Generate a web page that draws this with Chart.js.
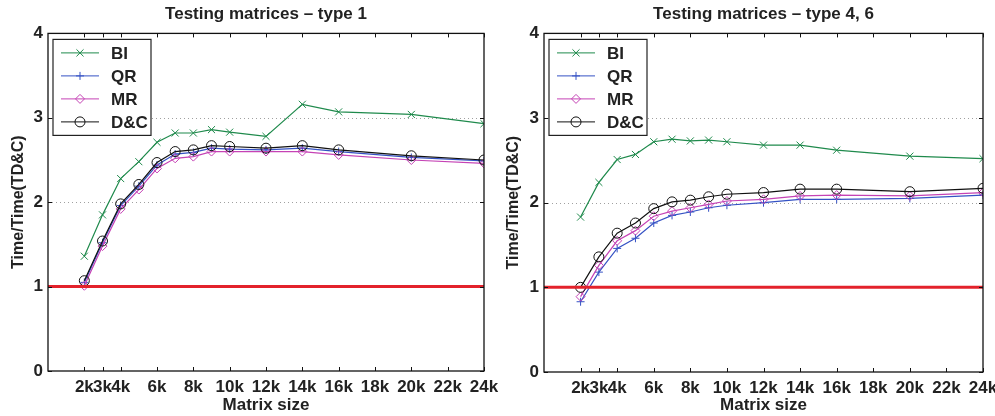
<!DOCTYPE html>
<html>
<head>
<meta charset="utf-8">
<script src="https://cdn.jsdelivr.net/npm/chart.js@4.4.1/dist/chart.umd.min.js"></script>
<style>
    html, body { margin: 0; padding: 0; background: #fff; }
    #wrap { position: relative; width: 995px; height: 416px; overflow: hidden; }
    .panel { position: absolute; top: 0; height: 416px; }
    #left { left: 0; width: 510px; }
    #right { left: 495px; width: 500px; }
</style>
</head>
<body>
<div id="wrap">
    <div class="panel" id="left"><canvas id="Type1Chart" width="510" height="416"></canvas></div>
    <div class="panel" id="right"><canvas id="Type46Chart" width="500" height="416"></canvas></div>
</div>
<script>
// Datos
var matrixSizes = [2000, 3000, 4000, 5000, 6000, 7000, 8000, 9000, 10000, 12000, 14000, 16000, 20000, 24000];
var xTickValues = [2000, 3000, 4000, 6000, 8000, 10000, 12000, 14000, 16000, 18000, 20000, 22000, 24000];
var yTickValues = [0, 1, 2, 3, 4];
var xRange = [0, 24000];
var referenceLevel = [1, 1];

var type1BI = [1.36, 1.85, 2.28, 2.48, 2.71, 2.82, 2.82, 2.86, 2.83, 2.78, 3.16, 3.07, 3.04, 2.93];
var type1QR = [1.05, 1.52, 1.96, 2.19, 2.44, 2.57, 2.59, 2.64, 2.63, 2.62, 2.64, 2.60, 2.53, 2.49];
var type1MR = [1.01, 1.48, 1.92, 2.15, 2.40, 2.52, 2.54, 2.60, 2.60, 2.60, 2.60, 2.56, 2.50, 2.46];
var type1DC = [1.07, 1.54, 1.98, 2.21, 2.47, 2.60, 2.62, 2.67, 2.66, 2.64, 2.67, 2.62, 2.55, 2.50];

var type46BI = [1.83, 2.24, 2.51, 2.57, 2.72, 2.75, 2.73, 2.74, 2.72, 2.68, 2.68, 2.62, 2.55, 2.52];
var type46QR = [0.83, 1.18, 1.46, 1.58, 1.76, 1.85, 1.89, 1.94, 1.97, 2.00, 2.04, 2.04, 2.05, 2.09];
var type46MR = [0.89, 1.26, 1.55, 1.67, 1.84, 1.90, 1.94, 1.98, 2.02, 2.04, 2.08, 2.09, 2.08, 2.12];
var type46DC = [1.00, 1.36, 1.64, 1.76, 1.93, 2.01, 2.03, 2.07, 2.10, 2.12, 2.16, 2.16, 2.13, 2.17];

Chart.defaults.font.family = "'Liberation Sans', Arial, Helvetica, sans-serif";
Chart.defaults.color = '#222';

function toPoints(values) {
    return matrixSizes.map(function (s, i) { return { x: s, y: values[i] }; });
}

// ejes estilo matlab: rejilla punteada, marco y marcas hacia dentro
var matlabAxes = {
    id: 'matlabAxes',
    beforeDatasetsDraw: function (chart) {
        var a = chart.chartArea, ctx = chart.ctx, ys = chart.scales.y;
        ctx.save();
        ctx.strokeStyle = '#a0a0a0';
        ctx.lineWidth = 1;
        ctx.setLineDash([1, 3]);
        ys.ticks.forEach(function (t) {
            if (t.value <= ys.min || t.value >= ys.max) return;
            var py = Math.round(ys.getPixelForValue(t.value)) + 0.5;
            ctx.beginPath();
            ctx.moveTo(a.left, py);
            ctx.lineTo(a.right, py);
            ctx.stroke();
        });
        ctx.restore();
    },
    afterDraw: function (chart) {
        var a = chart.chartArea, ctx = chart.ctx, xs = chart.scales.x, ys = chart.scales.y;
        var len = 4;
        ctx.save();
        ctx.strokeStyle = '#111';
        ctx.lineWidth = 1.3;
        ctx.strokeRect(a.left, a.top, a.right - a.left, a.bottom - a.top);
        ctx.lineWidth = 1;
        ctx.beginPath();
        xs.ticks.forEach(function (t) {
            var px = Math.round(xs.getPixelForValue(t.value)) + 0.5;
            ctx.moveTo(px, a.bottom); ctx.lineTo(px, a.bottom - len);
            ctx.moveTo(px, a.top); ctx.lineTo(px, a.top + len);
        });
        ys.ticks.forEach(function (t) {
            var py = Math.round(ys.getPixelForValue(t.value)) + 0.5;
            ctx.moveTo(a.left, py); ctx.lineTo(a.left + len, py);
            ctx.moveTo(a.right, py); ctx.lineTo(a.right - len, py);
        });
        ctx.stroke();
        ctx.restore();
    }
};

// leyenda dentro del area del grafico
var insideLegend = {
    id: 'insideLegend',
    afterDatasetsDraw: function (chart) {
        var a = chart.chartArea, ctx = chart.ctx;
        var items = chart.data.datasets.filter(function (d) { return d.inLegend; });
        var bx = a.left + 5, by = a.top + 6, bw = 98, bh = 96;
        ctx.save();
        ctx.fillStyle = '#fff';
        ctx.fillRect(bx, by, bw, bh);
        ctx.strokeStyle = '#222';
        ctx.lineWidth = 1.2;
        ctx.strokeRect(bx, by, bw, bh);
        ctx.font = 'bold 17px ' + Chart.defaults.font.family;
        ctx.textBaseline = 'middle';
        ctx.textAlign = 'left';
        items.forEach(function (d, i) {
            var y = by + 13.5 + i * 23;
            ctx.strokeStyle = d.borderColor;
            ctx.lineWidth = 1;
            ctx.beginPath();
            ctx.moveTo(bx + 8, y);
            ctx.lineTo(bx + 46, y);
            ctx.stroke();
            ctx.fillStyle = 'rgba(0,0,0,0)';
            Chart.helpers.drawPoint(ctx, { pointStyle: d.pointStyle, radius: d.pointRadius, rotation: 0, borderWidth: 1 }, bx + 27, y);
            ctx.fillStyle = '#222';
            ctx.fillText(d.label, bx + 58, y + 1);
        });
        ctx.restore();
    }
};

function serie(label, values, color, style, radius, order) {
    return {
        label: label,
        data: toPoints(values),
        borderColor: color,
        borderWidth: 1.2,
        pointStyle: style,
        pointRadius: radius,
        pointHoverRadius: radius,
        pointBorderWidth: 1,
        pointBackgroundColor: 'rgba(0,0,0,0)',
        tension: 0,
        order: order,
        inLegend: true
    };
}

function crearGrafico(canvasId, titulo, bi, qr, mr, dc, yWidth, xHeight, rightPad) {
    var ctx = document.getElementById(canvasId).getContext('2d');
    return new Chart(ctx, {
        type: 'line',
        data: {
            datasets: [
                serie('BI', bi, '#1f8a4c', 'crossRot', 5, 3),
                serie('QR', qr, '#3552c4', 'cross', 4, 2),
                serie('MR', mr, '#c543b5', 'rectRot', 4.5, 1),
                serie('D&C', dc, '#111111', 'circle', 5, 0),
                {
                    label: 'ref',
                    data: xRange.map(function (x, i) { return { x: x, y: referenceLevel[i] }; }),
                    borderColor: '#e3222b',
                    borderWidth: 3,
                    pointRadius: 0,
                    order: -1,
                    inLegend: false
                }
            ]
        },
        options: {
            responsive: false,
            animation: false,
            layout: { padding: { left: 0, right: rightPad, top: 0, bottom: 0 } },
            scales: {
                x: {
                    type: 'linear',
                    min: xRange[0],
                    max: xRange[1],
                    grid: { display: false, drawTicks: false },
                    border: { display: false },
                    afterBuildTicks: function (s) {
                        s.ticks = xTickValues.map(function (v) { return { value: v }; });
                    },
                    afterFit: function (s) {
                        s.height = xHeight;
                        s.paddingLeft = 0;
                        s.paddingRight = 0;
                    },
                    ticks: {
                        autoSkip: false,
                        maxRotation: 0,
                        padding: 6,
                        font: { size: 17, weight: 'bold' },
                        callback: function (v) { return (v / 1000) + 'k'; }
                    },
                    title: {
                        display: true,
                        text: 'Matrix size',
                        font: { size: 17, weight: 'bold' },
                        padding: { top: 0, bottom: 0 }
                    }
                },
                y: {
                    min: 0,
                    max: 4,
                    grid: { display: false, drawTicks: false },
                    border: { display: false },
                    afterBuildTicks: function (s) {
                        s.ticks = yTickValues.map(function (v) { return { value: v }; });
                    },
                    afterFit: function (s) {
                        s.width = yWidth;
                        s.paddingTop = 0;
                        s.paddingBottom = 0;
                    },
                    ticks: {
                        padding: 5,
                        font: { size: 17, weight: 'bold' }
                    },
                    title: {
                        display: true,
                        text: 'Time/Time(TD&C)',
                        font: { size: 16, weight: 'bold' },
                        padding: { top: 9, bottom: 0 }
                    }
                }
            },
            plugins: {
                legend: { display: false },
                tooltip: { enabled: false },
                title: {
                    display: true,
                    text: titulo,
                    fullSize: false,
                    font: { size: 17, weight: 'bold' },
                    padding: { top: 4, bottom: 9 }
                }
            }
        },
        plugins: [matlabAxes, insideLegend]
    });
}

document.addEventListener('DOMContentLoaded', function () {
    crearGrafico('Type1Chart', 'Testing matrices \u2013 type 1', type1BI, type1QR, type1MR, type1DC, 48, 45, 26);
    crearGrafico('Type46Chart', 'Testing matrices \u2013 type 4, 6', type46BI, type46QR, type46MR, type46DC, 49, 44, 12);
});
</script>
</body>
</html>
